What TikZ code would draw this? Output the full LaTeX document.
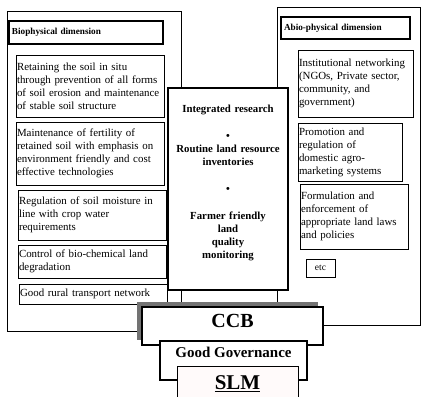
\documentclass[tikz,border=0pt]{standalone}
\usepackage{fontspec}
\setmainfont{Liberation Serif}
\usetikzlibrary{calc}

\begin{document}
\begin{tikzpicture}[x=1pt, y=-1pt]
\tikzset{every node/.style={rectangle, anchor=north west, outer sep=0pt},
  outer/.style={draw, line width=0.6pt, inner sep=0pt},
  head/.style={draw, line width=1.6pt, align=left, inner xsep=3pt, font=\fontsize{9.2}{11}\selectfont\bfseries},
  item/.style={draw, line width=0.7pt, align=left, inner xsep=1pt, inner ysep=1pt, font=\fontsize{10.9}{13}\selectfont},
  core/.style={draw, fill=white, line width=1.5pt, align=center, inner sep=0pt, font=\fontsize{10.8}{13}\selectfont\bfseries},
  base/.style={draw, fill=white, line width=1.4pt, align=center, inner sep=0pt, font=\bfseries}}
\useasboundingbox (0,0) rectangle (422,396);
\clip (0,0) rectangle (422,396);

% two dimensions
\node[outer, minimum width=174pt, minimum height=320pt] (bio) at (7,11) {};
\node[outer, minimum width=143.5pt, minimum height=318pt] (abio) at (277,7) {};

\node[head, text width=148pt, minimum height=23pt] (biohead) at (9,21) {Biophysical dimension};
\node[item, text width=146pt, minimum height=62pt] (insitu) at (16,55) {Retaining the soil in situ\\ through prevention of all forms\\ of soil erosion and maintenance\\ of stable soil structure};
\node[item, text width=146pt, minimum height=63pt] (fertility) at (16,122) {Maintenance of fertility of\\ retained soil with emphasis on\\ environment friendly and cost\\ effective technologies};
\node[item, text width=146pt, minimum height=50pt] (moisture) at (18,190) {Regulation of soil moisture in\\ line with crop water\\ requirements};
\node[item, text width=146pt, minimum height=33pt] (chemical) at (18,245) {Control of bio-chemical land\\ degradation};
\node[item, text width=146pt, minimum height=20pt] (transport) at (19,284) {Good rural transport network};

\node[head, text width=123pt, minimum height=22pt] (abiohead) at (281,17) {Abio-physical dimension};
\node[item, text width=113pt, minimum height=67pt] (network) at (298,50) {Institutional networking\\ (NGOs, Private sector,\\ community, and\\ government)};
\node[item, text width=102pt, minimum height=58pt] (market) at (298,123) {Promotion and\\ regulation of\\ domestic agro-\\ marketing systems};
\node[item, text width=106pt, minimum height=65pt] (laws) at (300,184) {Formulation and\\ enforcement of\\ appropriate land laws\\ and policies};
\node[item, align=center, inner sep=0pt, minimum width=29pt, minimum height=18pt, font=\fontsize{9.5}{11}\selectfont] (etc) at (306,259) {etc};

% centre column
\node[core, text width=120pt, minimum height=202pt] (research) at (168,88) {Integrated research\\[14pt] \textbullet\\ Routine land resource\\ inventories\\[14pt] \textbullet\\[14pt] Farmer friendly\\ land\\ quality\\ monitoring\\[2pt]\mbox{}};

% stacked base
\node[draw=none, fill=black!55, minimum width=181pt, minimum height=38pt] (ccbshadow) at (137,302) {};
\node[base, minimum width=181pt, minimum height=38pt, text depth=10pt, font=\fontsize{20}{22}\selectfont\bfseries] (ccb) at (142,307) {CCB};
\node[base, minimum width=147pt, minimum height=39pt, text depth=16pt, font=\fontsize{15}{17}\selectfont\bfseries] (governance) at (160,341) {Good Governance};
\node[base, fill=pink!8, line width=0.8pt, minimum width=121pt, minimum height=36pt, font=\fontsize{21}{23}\selectfont\bfseries] (slm) at (177,366) {\underline{SLM}};

\end{tikzpicture}
\end{document}
